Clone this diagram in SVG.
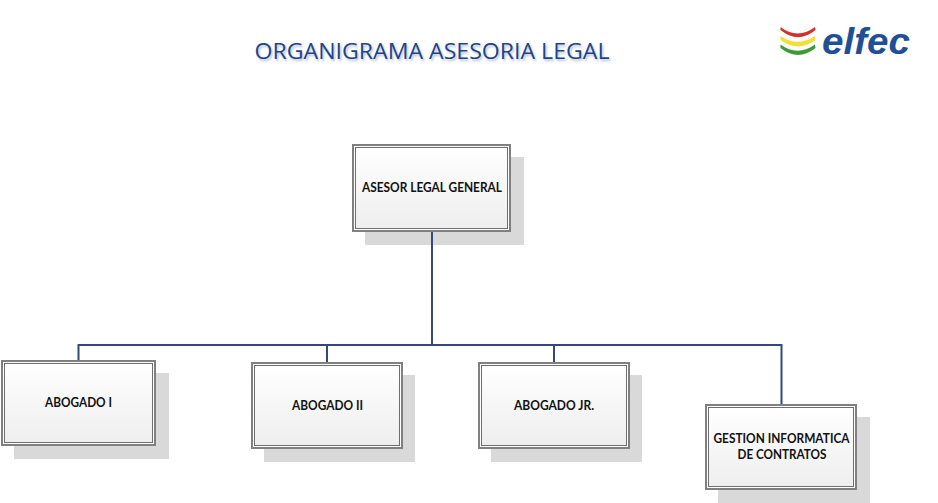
<svg xmlns="http://www.w3.org/2000/svg" width="938" height="503" viewBox="0 0 938 503">
<defs>
<linearGradient id="g" x1="0" y1="0" x2="0" y2="1"><stop offset="0" stop-color="#ffffff"/><stop offset="1" stop-color="#eeeeee"/></linearGradient>
<filter id="b" x="-5%" y="-30%" width="110%" height="160%"><feGaussianBlur stdDeviation="1"/></filter>
</defs>
<style>
.shadow{fill:#d9d9d9}
.outer{fill:#fff;stroke:#808080;stroke-width:2}
.inner{fill:url(#g);stroke:#6e6e6e;stroke-width:1}
.lbl{font-family:"Lato","Open Sans","Liberation Sans",sans-serif;font-weight:700;font-size:13px;fill:#111;text-anchor:middle}
.title{font-family:"Open Sans","Liberation Sans",sans-serif;font-weight:500;font-size:22.500px;text-anchor:start}
.conn{fill:none;stroke:#33487f;stroke-width:2}
</style>
<rect width="938" height="503" fill="#fff"/>
<g id="title">
<text class="title" x="256" y="60.500" fill="#b4c0d4" textLength="355" lengthAdjust="spacingAndGlyphs" filter="url(#b)">ORGANIGRAMA ASESORIA LEGAL</text>
<text class="title" x="254.500" y="59" fill="#1f4488" textLength="355" lengthAdjust="spacingAndGlyphs">ORGANIGRAMA ASESORIA LEGAL</text>
</g>
<g id="logo">
<path fill="#d2312f" d="M780.500 27Q797.500 40 815 27L815.500 30Q798 44.500 780.500 30Z"/>
<path fill="#f2df3a" d="M780.500 36Q797.500 47.500 815 36L815.500 40Q798 53 780.500 40Z"/>
<path fill="#3f9a35" d="M780.500 44.500Q797.500 57 815 44.500L815.500 48Q798 62 780.500 48Z"/>
<text x="822" y="54" font-family="Liberation Sans, Arial, sans-serif" font-weight="700" font-style="italic" font-size="36px" fill="#1f4f96" textLength="88" lengthAdjust="spacingAndGlyphs">elfec</text>
</g>
<g id="node-asesor">
<rect class="shadow" x="365" y="157" width="159" height="88"/>
<rect class="outer" x="353" y="145" width="157" height="86"/>
<rect class="inner" x="355.500" y="147.500" width="152" height="81"/>
<text class="lbl" x="432" y="192" textLength="140" lengthAdjust="spacingAndGlyphs">ASESOR LEGAL GENERAL</text>
</g>
<g id="node-abogado-1">
<rect class="shadow" x="14" y="373" width="155" height="86"/>
<rect class="outer" x="2" y="361" width="153" height="84"/>
<rect class="inner" x="4.500" y="363.500" width="148" height="79"/>
<text class="lbl" x="78.500" y="406.500" textLength="67" lengthAdjust="spacingAndGlyphs">ABOGADO I</text>
</g>
<g id="node-abogado-2">
<rect class="shadow" x="264" y="375" width="151" height="87"/>
<rect class="outer" x="252" y="363" width="150" height="85"/>
<rect class="inner" x="254.500" y="365.500" width="145" height="80"/>
<text class="lbl" x="327.500" y="410" textLength="71" lengthAdjust="spacingAndGlyphs">ABOGADO II</text>
</g>
<g id="node-abogado-jr">
<rect class="shadow" x="491" y="375" width="151" height="87"/>
<rect class="outer" x="479" y="363" width="150" height="85"/>
<rect class="inner" x="481.500" y="365.500" width="145" height="80"/>
<text class="lbl" x="554" y="410" textLength="80" lengthAdjust="spacingAndGlyphs">ABOGADO JR.</text>
</g>
<g id="node-gestion">
<rect class="shadow" x="718" y="417" width="152" height="86"/>
<rect class="outer" x="706" y="405" width="150" height="84"/>
<rect class="inner" x="708.500" y="407.500" width="145" height="79"/>
<text class="lbl" x="781.500" y="443" textLength="136" lengthAdjust="spacingAndGlyphs">GESTION INFORMATICA</text>
<text class="lbl" x="782" y="459" textLength="89" lengthAdjust="spacingAndGlyphs">DE CONTRATOS</text>
</g>
<g id="connectors">
<path class="conn" d="M432 232V345"/>
<path class="conn" d="M78.500 360V345H781.500V404"/>
<path class="conn" d="M327 362V345"/>
<path class="conn" d="M554 362V345"/>
</g>
</svg>
